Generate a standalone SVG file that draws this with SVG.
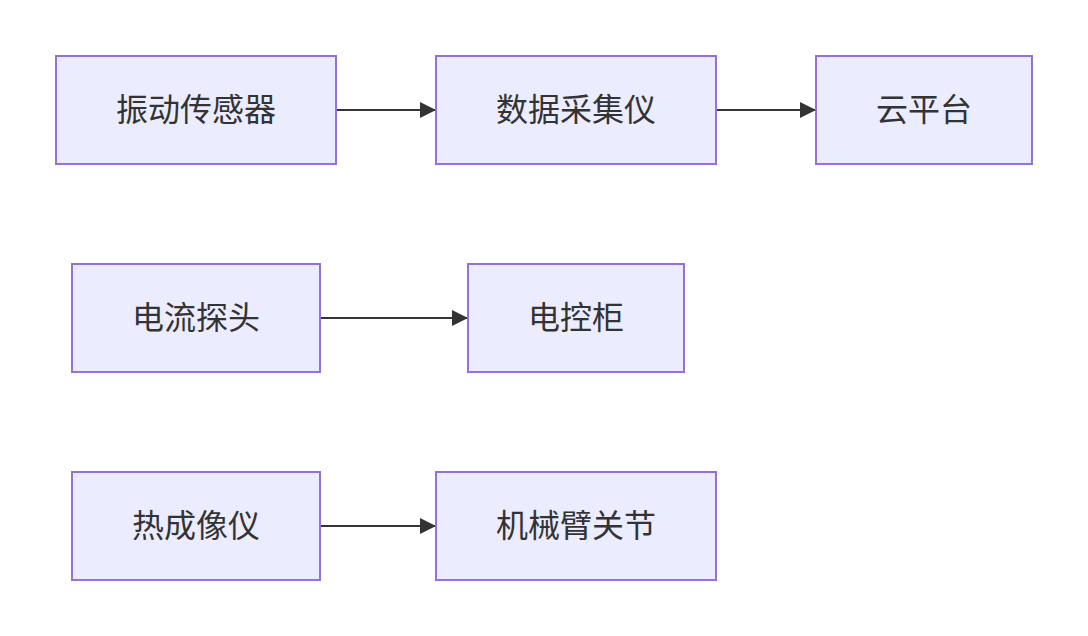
<svg xmlns="http://www.w3.org/2000/svg" width="1088" height="636" viewBox="0 0 1088 636">
<style>
.node rect{fill:#ECECFF;stroke:#9370DB;stroke-width:2}
.node text{font-family:"Noto Sans CJK SC","Noto Sans",sans-serif;font-size:32px;fill:#333;text-anchor:middle;dominant-baseline:central}
.edge{stroke:#333;stroke-width:2;fill:none}
</style>
<defs>
<marker id="arrow" markerWidth="16" markerHeight="16" refX="16" refY="8" orient="auto" markerUnits="userSpaceOnUse">
<path d="M0,0 L16,8 L0,16 z" fill="#333"/>
</marker>
</defs>
<rect width="1088" height="636" fill="#fff"/>
<g id="edges">
<line class="edge" x1="337" y1="110" x2="436" y2="110" marker-end="url(#arrow)"/>
<line class="edge" x1="717" y1="110" x2="816" y2="110" marker-end="url(#arrow)"/>
<line class="edge" x1="321" y1="318" x2="468" y2="318" marker-end="url(#arrow)"/>
<line class="edge" x1="321" y1="526" x2="436" y2="526" marker-end="url(#arrow)"/>
</g>
<g id="n1" class="node"><rect x="56" y="56" width="280" height="108"/><text x="196" y="107">振动传感器</text></g>
<g id="n2" class="node"><rect x="436" y="56" width="280" height="108"/><text x="576" y="107">数据采集仪</text></g>
<g id="n3" class="node"><rect x="816" y="56" width="216" height="108"/><text x="924" y="107">云平台</text></g>
<g id="n4" class="node"><rect x="72" y="264" width="248" height="108"/><text x="196" y="315">电流探头</text></g>
<g id="n5" class="node"><rect x="468" y="264" width="216" height="108"/><text x="576" y="315">电控柜</text></g>
<g id="n6" class="node"><rect x="72" y="472" width="248" height="108"/><text x="196" y="523">热成像仪</text></g>
<g id="n7" class="node"><rect x="436" y="472" width="280" height="108"/><text x="576" y="523">机械臂关节</text></g>
</svg>
